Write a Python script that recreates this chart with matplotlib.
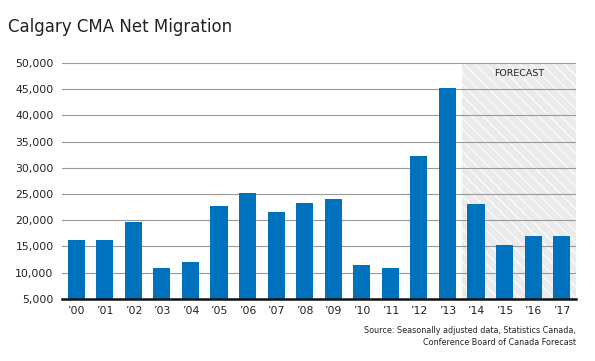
import numpy as np
import matplotlib.pyplot as plt
import matplotlib as mpl

mpl.rcParams['hatch.linewidth'] = 1.3

years = ["’00", "’01", "’02", "’03", "’04", "’05", "’06", "’07", "’08",
         "’09", "’10", "’11", "’12", "’13", "’14", "’15", "’16", "’17"]
migration = [16200, 16200, 19600, 10900, 12100, 22800, 25200, 21600, 23300,
             24100, 11500, 10900, 32300, 45200, 23100, 15300, 17000, 17000]
yticks = [5000, 10000, 15000, 20000, 25000, 30000, 35000, 40000, 45000, 50000]
forecast_start = 13.5

plt.rcParams['font.family'] = ['DejaVu Sans']

fig = plt.figure(figsize=(5.95, 3.61), dpi=100)
ax = fig.add_axes([0.104, 0.172, 0.864, 0.654])

x = np.arange(len(years))

# forecast shaded box
ax.axvspan(forecast_start, len(years) - 0.5, facecolor='#eaeaea',
           edgecolor='#f8f8f8', hatch='\\\\\\', lw=0, zorder=0)
ax.text((forecast_start + len(years) - 0.5) / 2, 47900, 'FORECAST',
        ha='center', va='center', fontsize=6.8, color='#222222')

ax.bar(x, migration, width=0.6, bottom=0, color='#0071bc', zorder=3)

ax.set_ylim(5000, 50000)
ax.set_xlim(-0.5, len(years) - 0.5)
ax.set_yticks(yticks)
ax.set_yticklabels([f'{v:,}' for v in yticks])
ax.set_xticks(x)
ax.set_xticklabels(years)
ax.tick_params(length=0, labelsize=7.8, colors='#222222')
ax.tick_params(axis='y', pad=6)
ax.tick_params(axis='x', pad=5)

ax.grid(axis='y', color='#999999', lw=0.8, zorder=1)
for s in ['top', 'right', 'left']:
    ax.spines[s].set_visible(False)
ax.spines['bottom'].set_linewidth(1.8)
ax.spines['bottom'].set_color('#111111')
ax.spines['bottom'].set_zorder(5)

fig.text(0.013, 0.925, 'Calgary CMA Net Migration', fontsize=12, color='#222222',
         va='center')
fig.text(0.968, 0.068, 'Source: Seasonally adjusted data, Statistics Canada,\nConference Board of Canada Forecast',
         ha='right', va='center', fontsize=5.8, color='#222222', linespacing=1.35)

fig.savefig('out.png', dpi=100)
